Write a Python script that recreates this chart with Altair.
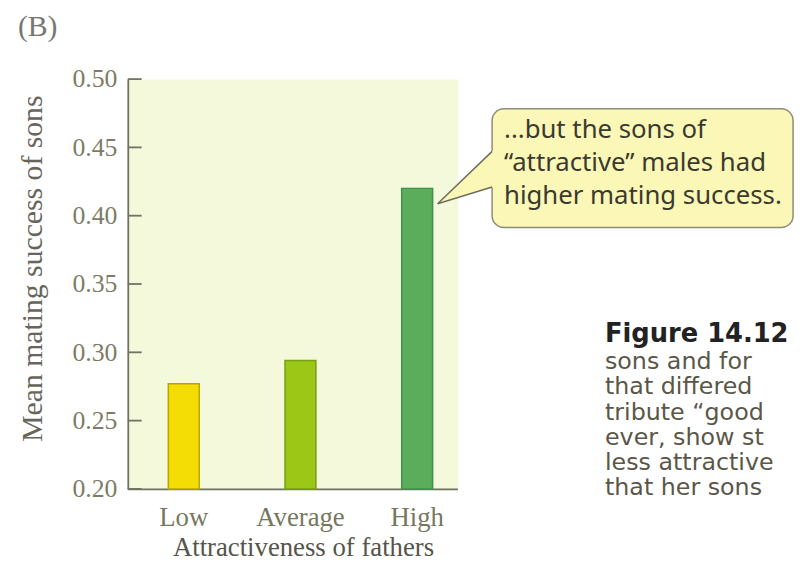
import altair as alt
import pandas as pd

# ---- data ----
categories = ["Low", "Average", "High"]
values = [0.277, 0.294, 0.420]
bar_fill = ["#f3dd04", "#9dc716", "#5cad5b"]
bar_stroke = ["#b8a600", "#74a012", "#3f9149"]
y_ticks = [0.20, 0.25, 0.30, 0.35, 0.40, 0.45, 0.50]

panel_label = "(B)"
y_title = "Mean mating success of sons"
x_title = "Attractiveness of fathers"
callout_lines = ["...but the sons of", "\u201cattractive\u201d males had", "higher mating success."]
caption_head = "Figure 14.12"
caption_lines = [
    "sons and for",
    "that differed",
    "tribute \u201cgood",
    "ever, show st",
    "less attractive",
    "that her sons",
]

SERIF = "Liberation Serif"
AXIS_COLOR = "#6e7262"
CALLOUT_FILL = "#fbf7b6"

bars_df = pd.DataFrame({"cat": categories, "value": values})
ticks_df = pd.DataFrame({"value": y_ticks})
note_df = pd.DataFrame({"note": [" ".join(callout_lines)]})
cap_df = pd.DataFrame({"caption": [caption_head]})
lab_df = pd.DataFrame({"label": [panel_label]})

y_scale = alt.Scale(domain=[0.2, 0.5], zero=False, nice=False)

y_axis = alt.Axis(
    title=y_title,
    values=y_ticks,
    format=".2f",
    ticks=False,
    grid=False,
    labelPadding=11,
    labelOverlap=False,
    labelFont=SERIF,
    labelFontSize=26,
    labelColor="#7d7d66",
    domainColor=AXIS_COLOR,
    domainWidth=1.8,
    titleFont=SERIF,
    titleFontSize=30,
    titleFontWeight="normal",
    titleColor="#66665a",
    titleAngle=-90,
    titleX=-87,
    titleY=191,
    titleAlign="center",
    titleBaseline="alphabetic",
)

bars = alt.Chart(bars_df).mark_bar(strokeWidth=1.5).encode(
    x=alt.X(
        "cat:N",
        sort=categories,
        scale=alt.Scale(paddingInner=0.735, paddingOuter=0.28, align=0.62),
        axis=alt.Axis(
            title=x_title,
            ticks=False,
            labelAngle=0,
            labelPadding=16,
            labelFont=SERIF,
            labelFontSize=27,
            labelColor="#77775f",
            domainColor=AXIS_COLOR,
            domainWidth=1.8,
            titleFont=SERIF,
            titleFontSize=27,
            titleFontWeight="normal",
            titleColor="#55554a",
            titleX=177,
            titleY=67,
            titleAlign="center",
            titleBaseline="alphabetic",
        ),
    ),
    y=alt.Y("value:Q", scale=y_scale, axis=y_axis),
    y2=alt.datum(0.2),
    fill=alt.Fill("cat:N", scale=alt.Scale(domain=categories, range=bar_fill), legend=None),
    stroke=alt.Stroke("cat:N", scale=alt.Scale(domain=categories, range=bar_stroke), legend=None),
)

ticks = alt.Chart(ticks_df).mark_rule(color=AXIS_COLOR, strokeWidth=1.8).encode(
    y=alt.Y("value:Q", scale=y_scale, axis=y_axis),
    x=alt.value(0),
    x2=alt.value(14),
)

bubble = alt.Chart(note_df).mark_rect(
    fill=CALLOUT_FILL, stroke="#8d8c78", strokeWidth=1.5, cornerRadius=12
).encode(x=alt.value(368), x2=alt.value(672), y=alt.value(30), y2=alt.value(150))

wedge = alt.Chart(note_df).mark_point(
    shape="M -0.933 0.833 L 0.967 -1 L 0.967 0.267 Z",
    size=3600,
    filled=True,
    fill=CALLOUT_FILL,
    opacity=1,
    strokeWidth=0,
).encode(x=alt.value(341), y=alt.value(101))

edge_up = alt.Chart(note_df).mark_rule(color="#6e6e60", strokeWidth=1.5).encode(
    x=alt.value(313), y=alt.value(126), x2=alt.value(368), y2=alt.value(73)
)
edge_low = alt.Chart(note_df).mark_rule(color="#6e6e60", strokeWidth=1.5).encode(
    x=alt.value(313), y=alt.value(126), x2=alt.value(368), y2=alt.value(109)
)

note_text = alt.Chart(note_df).mark_text(
    text=callout_lines, lineHeight=33, align="left", baseline="alphabetic",
    font="Noto Sans", fontSize=26, color="#3a3a30",
).encode(x=alt.value(380), y=alt.value(60))

label_text = alt.Chart(lab_df).mark_text(
    align="left", baseline="alphabetic", font=SERIF, fontSize=30, color="#777770"
).encode(text="label:N", x=alt.value(-111), y=alt.value(-44))

cap_head = alt.Chart(cap_df).mark_text(
    align="left", baseline="alphabetic", font="DejaVu Sans", fontWeight="bold",
    fontSize=26, color="#222222",
).encode(text="caption:N", x=alt.value(482), y=alt.value(266))

cap_body = alt.Chart(cap_df).mark_text(
    text=caption_lines, lineHeight=25.5, align="left", baseline="alphabetic",
    font="DejaVu Sans", fontSize=24, color="#5a5748",
).encode(x=alt.value(482), y=alt.value(293))

chart = alt.layer(
    bars, ticks, bubble, wedge, edge_up, edge_low, note_text, label_text, cap_head, cap_body
).properties(
    width=333,
    height=414,
    autosize=alt.AutoSizeParams(type="none"),
    padding={"left": 121, "top": 69, "right": 345, "bottom": 70},
    background="#ffffff",
).configure_view(fill="#f4f9dc", strokeOpacity=0)

chart.save("out.html", embed_options={"renderer": "svg", "actions": False})
